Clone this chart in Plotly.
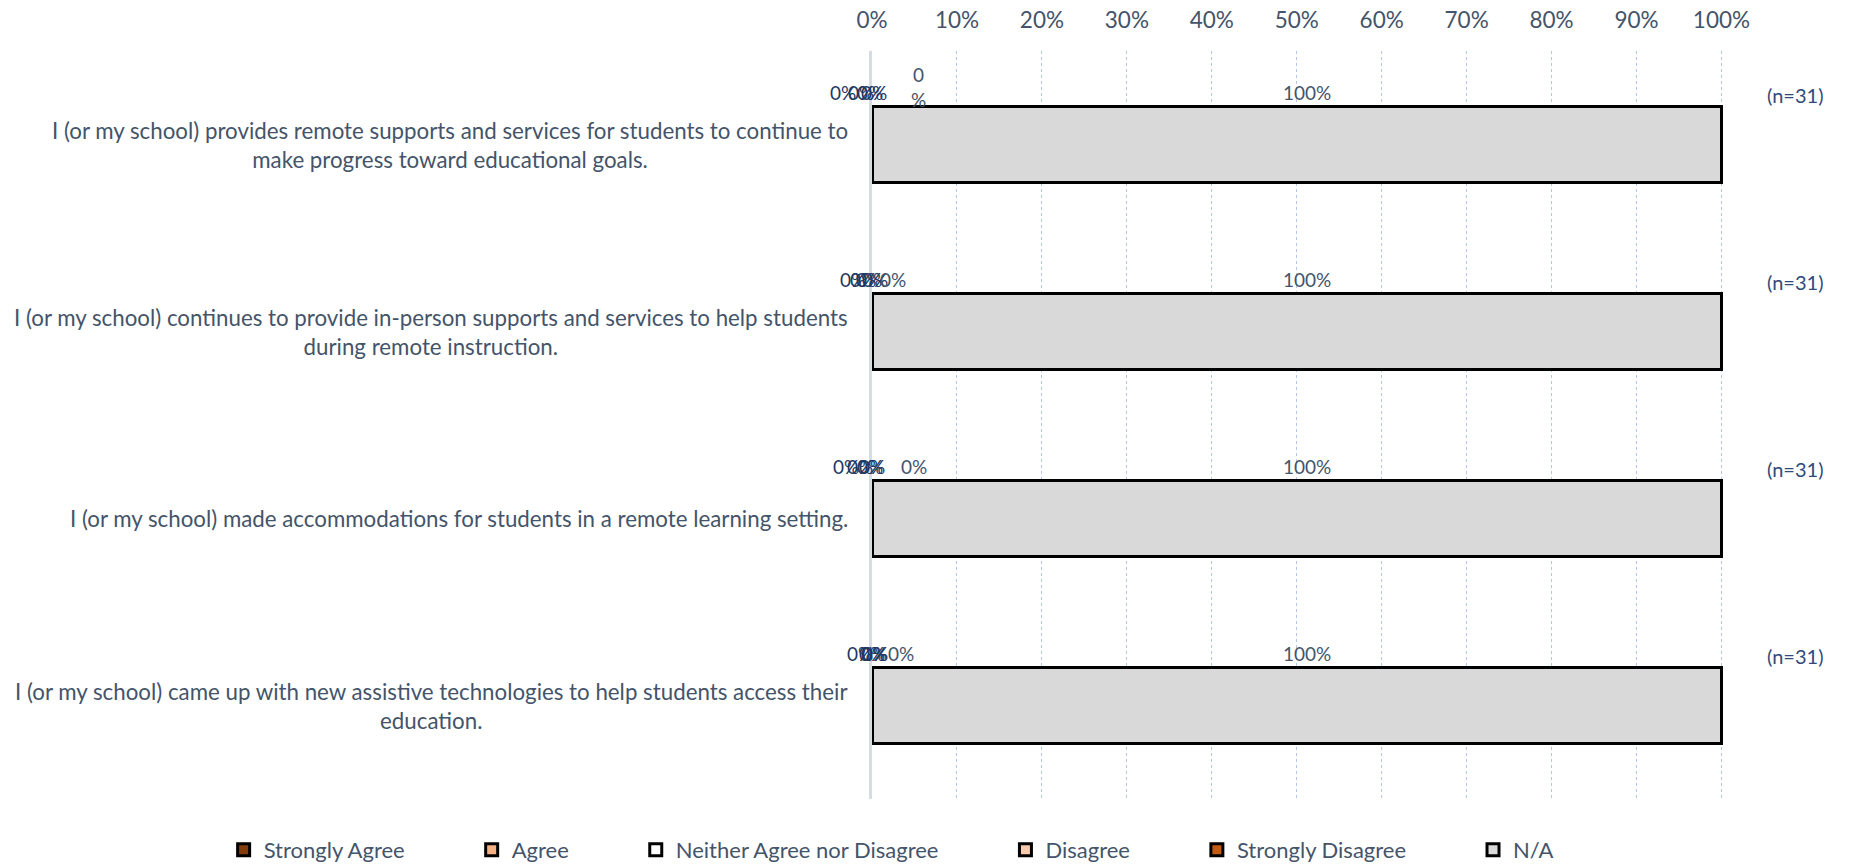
import plotly.graph_objects as go

categories = [
    "I (or my school) provides remote supports and services for students to continue to<br>make progress toward educational goals.",
    "I (or my school) continues to provide in-person supports and services to help students<br>during remote instruction.",
    "I (or my school) made accommodations for students in a remote learning setting.",
    "I (or my school) came up with new assistive technologies to help students access their<br>education.",
]
strongly_agree = [0.0, 0.0, 0.0, 0.0]
agree = [0.0, 0.0, 0.0, 0.0]
neither = [0.0, 0.0, 0.0, 0.0]
disagree = [0.0, 0.0, 0.0, 0.0]
strongly_disagree = [0.0, 0.0, 0.0, 0.0]
not_applicable = [1.0, 1.0, 1.0, 1.0]
n_counts = [31, 31, 31, 31]
tick_vals = [i / 10 for i in range(11)]
tick_text = [f"{i * 10}%" for i in range(11)]

series = [
    ("Strongly Agree", strongly_agree, "#843C0C"),
    ("Agree", agree, "#F4B183"),
    ("Neither Agree nor Disagree", neither, "#FFFFFF"),
    ("Disagree", disagree, "#F8CBAD"),
    ("Strongly Disagree", strongly_disagree, "#C55A11"),
    ("N/A", not_applicable, "#D9D9D9"),
]

# manual nudges of the data labels (excel moved them around)
label_xshift = [[-29, -11, -2, 2, 46, 10],
                [-19, -9, -3, 3, 21, 10],
                [-26, -12, -2, 0, 42, 10],
                [-12, 0, 2, 3, 29, 10]]
label_color = ["#1F3864", "#1F3864", "#1F3864", "#1F3864", "#44546A", "#44546A"]
legend_pad = [11, 11, 11, 11, 11, 0]

FONT = "Lato"
fig = go.Figure()
for k, (name, vals, color) in enumerate(series):
    fig.add_trace(go.Bar(
        y=categories, x=vals, orientation="h",
        name=name + "\u00a0" * legend_pad[k],
        marker=dict(color=color, line=dict(color="black", width=3)),
        hoverinfo="x+name",
    ))

annotations = []
for i, cat in enumerate(categories):
    annotations.append(dict(
        x=0, xref="paper", y=cat, yref="y", text=cat, showarrow=False,
        xanchor="right", align="center", xshift=-22,
        font=dict(family=FONT, size=22.3, color="#44546A"),
    ))
    start = 0.0
    for k, (name, vals, color) in enumerate(series):
        v = vals[i]
        txt = f"{v:.0%}"
        if i == 0 and k == 4:
            txt = "0<br>%"
        annotations.append(dict(
            x=start + v / 2, y=cat, text=txt, showarrow=False,
            xshift=label_xshift[i][k], yshift=52 if txt != "0<br>%" else 58,
            font=dict(family=FONT, size=19, color=label_color[k]),
        ))
        start += v
    annotations.append(dict(
        x=1.118, xref="paper", y=cat, yref="y", text=f"(n={n_counts[i]})",
        showarrow=False, yshift=50,
        font=dict(family=FONT, size=20, color="#2F4B7C"),
    ))

fig.update_layout(
    barmode="stack", bargap=0.594,
    width=1849, height=866,
    margin=dict(l=872, r=125, t=51, b=67, autoexpand=False),
    plot_bgcolor="white", paper_bgcolor="white",
    font=dict(family=FONT, size=20, color="#44546A"),
    annotations=annotations,
    legend=dict(orientation="h", x=-0.761, xanchor="left", y=-0.068, yanchor="middle",
                font=dict(family=FONT, size=22, color="#44546A"), traceorder="normal"),
    showlegend=True,
)
fig.update_xaxes(side="top", range=[0, 1.003], tickvals=tick_vals, ticktext=tick_text,
                 showgrid=True, gridcolor="#B4C7E7", griddash="dot", gridwidth=1,
                 zeroline=False, ticklabelstandoff=18,
                 tickfont=dict(family=FONT, size=22.5, color="#44546A"))
fig.update_yaxes(autorange="reversed", showticklabels=False, showgrid=False,
                 showline=True, linecolor="#D6DCE5", linewidth=3, zeroline=False)

fig.write_html("out.html", config={"displayModeBar": False},
               post_script="document.body.style.margin='0';")
